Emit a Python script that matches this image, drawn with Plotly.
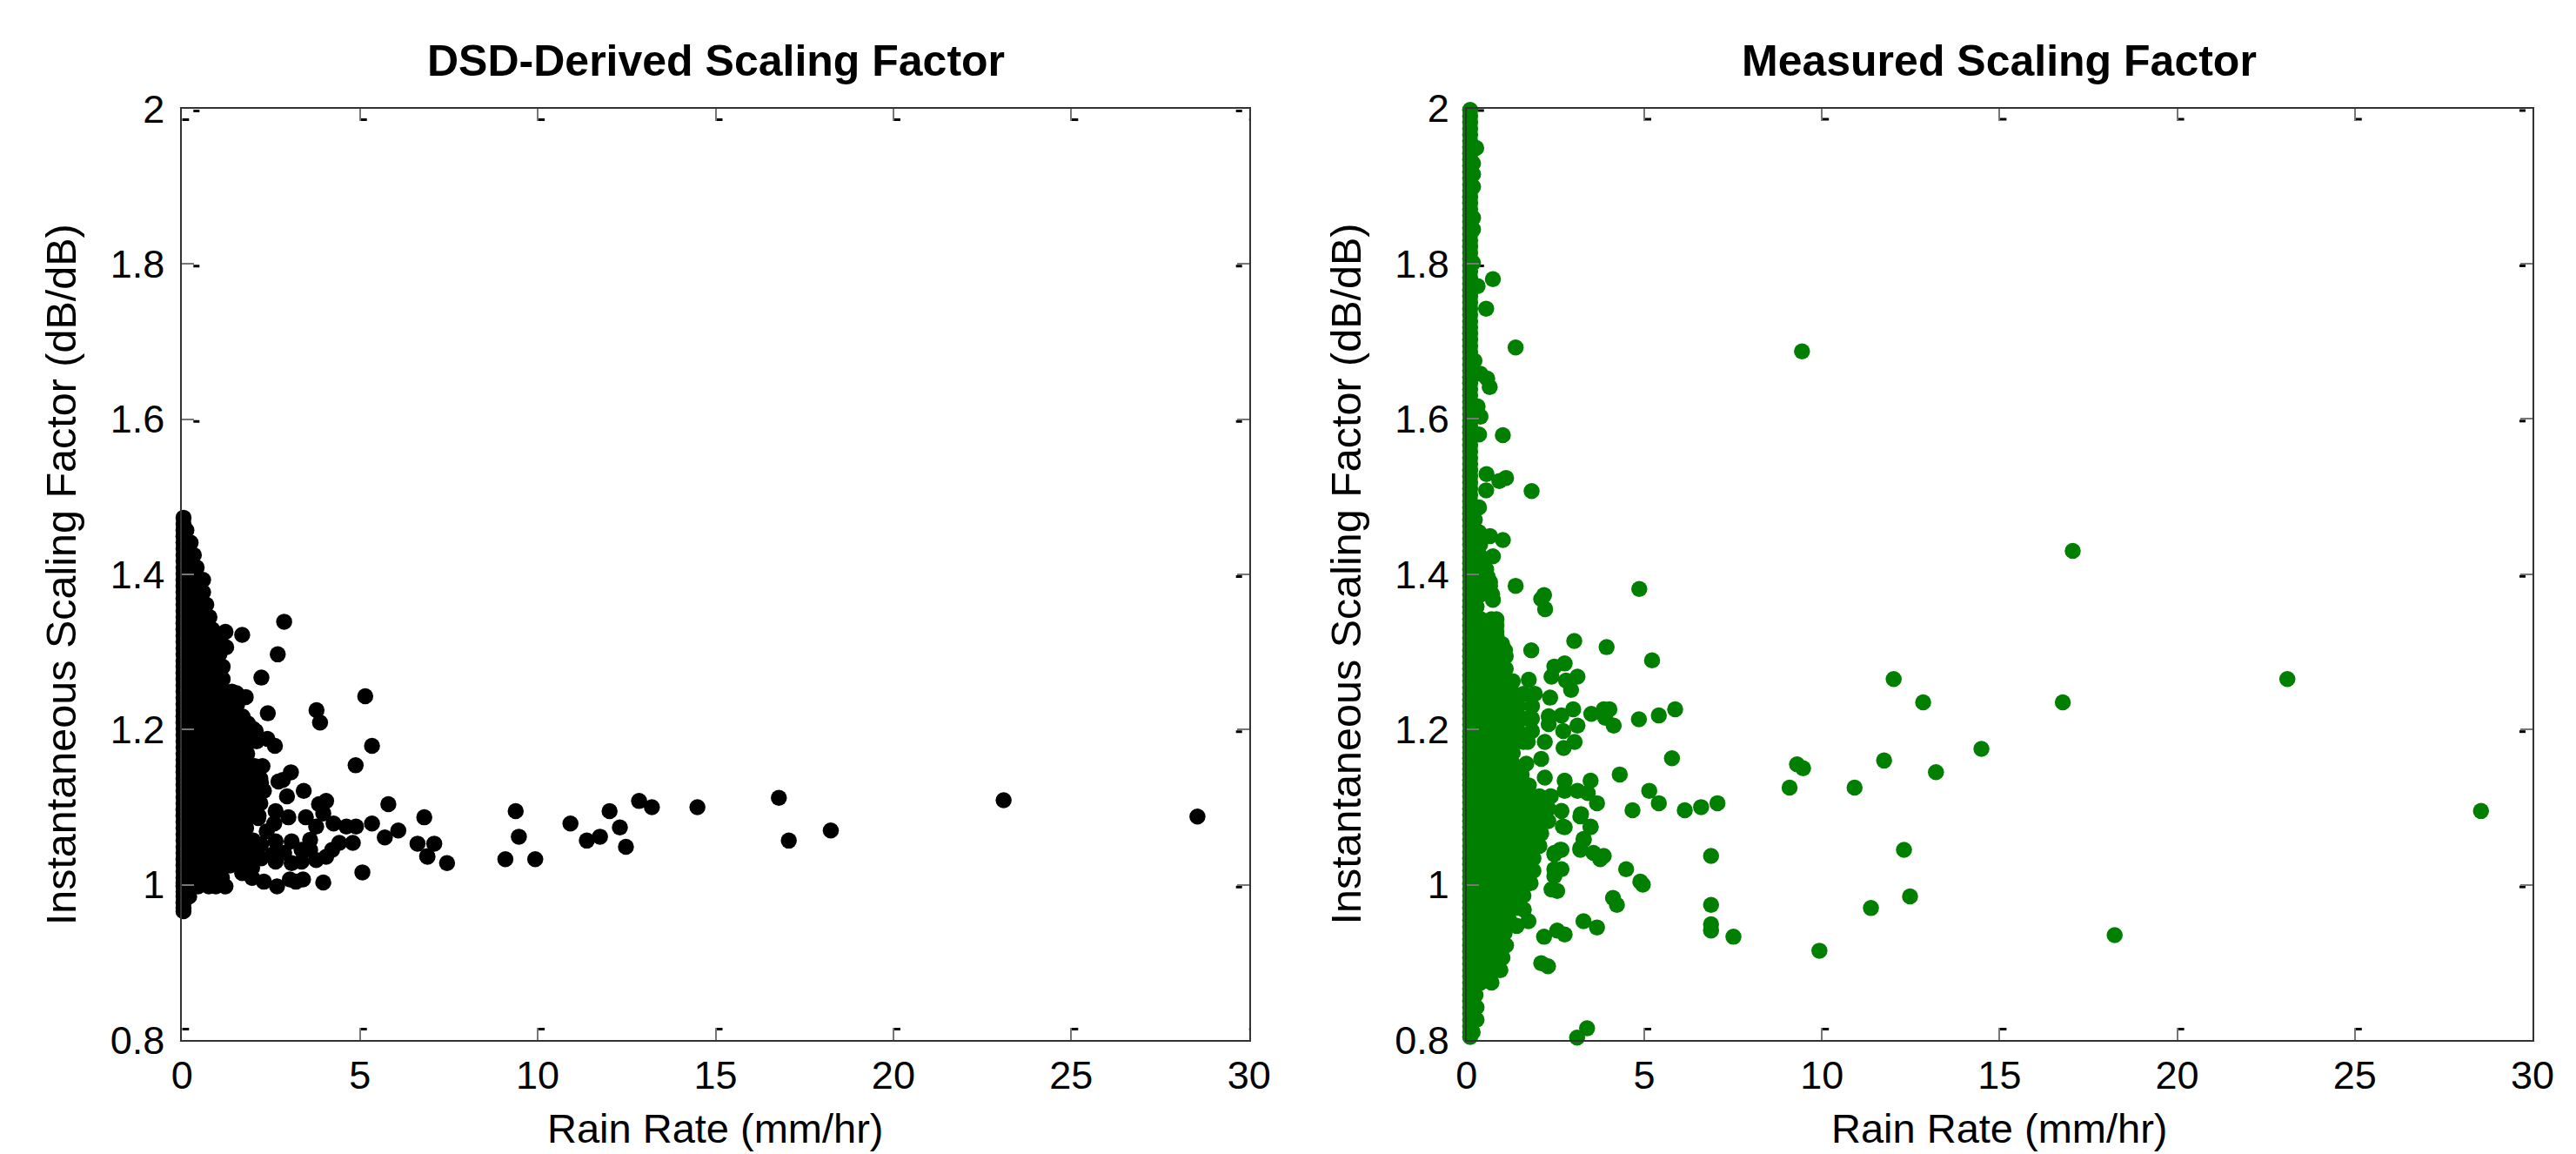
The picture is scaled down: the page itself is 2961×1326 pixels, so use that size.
import plotly.graph_objects as go

# ---------- DATA ----------
x_ticks = [0, 5, 10, 15, 20, 25, 30]
y_ticks = [0.8, 1.0, 1.2, 1.4, 1.6, 1.8, 2.0]
y_tick_labels = ["0.8", "1", "1.2", "1.4", "1.6", "1.8", "2"]
titles = ["DSD-Derived Scaling Factor", "Measured Scaling Factor"]
x_label = "Rain Rate (mm/hr)"
y_label = "Instantaneous Scaling Factor (dB/dB)"

# DSD-derived panel: individually readable points
dsd_rain = [2.87,1.69,2.69,2.23,5.15,2.41,3.78,3.88,5.34,1.22,1.24,1.79,1.53,2.61,2.40,1.85,2.07,
            4.88,3.06,2.83,3.42,5.80,6.81,5.34,6.08,5.70,6.62,6.90,5.07,3.97,3.40,3.20,3.03,2.67,2.30,1.97,1.69,1.22,
            4.05,3.85,3.97,3.48,3.77,4.26,4.62,4.89,4.80,4.42,4.22,4.05,3.77,3.36,3.08,3.60,3.08,2.63,2.38,2.59,2.63,
            2.99,2.95,2.71,2.26,2.22,2.54,2.22,1.97,3.36,3.60,2.14,2.63,2.87,2.22,
            7.09,6.89,7.45,9.38,9.47,9.09,9.93,10.92,11.38,11.75,12.02,12.31,12.48,12.85,13.21,14.49,16.78,17.06,18.24,23.1,28.55]
dsd_scale = [1.339,1.322,1.297,1.267,1.243,1.221,1.225,1.209,1.179,1.326,1.306,1.242,1.247,1.179,1.188,1.208,1.198,
             1.154,1.145,1.135,1.121,1.104,1.087,1.079,1.070,1.061,1.053,1.036,1.016,1.003,1.007,1.004,1.007,0.998,1.004,1.009,1.015,0.998,
             1.108,1.104,1.092,1.087,1.075,1.079,1.075,1.075,1.054,1.054,1.045,1.036,1.032,1.030,1.028,1.058,1.056,1.056,1.069,1.079,1.095,
             1.087,1.114,1.133,1.153,1.131,1.039,1.034,1.022,1.045,1.045,1.086,1.030,1.041,1.052,
             1.053,1.037,1.028,1.095,1.062,1.033,1.033,1.079,1.057,1.062,1.095,1.074,1.049,1.108,1.100,1.100,1.112,1.057,1.070,1.109,1.088]

# DSD-derived panel: dense cloud near zero rain, one rain list per scaling-factor level
dsd_core_scale = [1.473,1.457,1.441,1.425,1.409,1.393,1.377,1.361,1.345,1.329,1.313,1.297,1.281,1.265,1.249,1.233,1.217,
                  1.201,1.185,1.169,1.153,1.137,1.121,1.105,1.089,1.073,1.057,1.041,1.025,1.009,0.998,0.985,0.970]
dsd_core_rain = [
    [.04],[.04,.12],[.04,.24],[.04,.33],[.04,.22,.41],[.04,.30,.59],[.04,.15,.45,.59],[.04,.30,.60,.68],
    [.04,.15,.45,.77],[.04,.30,.60,.85],[.04,.15,.45,.75,.95],[.04,.30,.60,.90,1.05],[.04,.15,.45,.75,1.05,1.14],[.04,.30,.60,.90,1.14],
    [.04,.15,.45,.75,1.05,1.40],[.04,.30,.60,.90,1.20,1.50,1.55],[.04,.15,.45,.75,1.05,1.35,1.70],
    [.04,.30,.60,.90,1.20,1.50,1.80,2.0],[.04,.15,.45,.75,1.05,1.35,1.65,1.95,2.10],[.04,.30,.60,.90,1.20,1.50,1.83],
    [.04,.15,.45,.75,1.05,1.35,1.65,1.95,2.04],[.04,.30,.60,.90,1.20,1.50,1.80,2.10,2.20],[.04,.15,.45,.75,1.05,1.35,1.65,1.95,2.25,2.30],
    [.04,.30,.60,.90,1.20,1.50,1.80,2.10,2.20],[.04,.15,.45,.75,1.05,1.35,1.65,1.95,2.15],[.04,.30,.60,.90,1.20,1.50,1.80],
    [.04,.15,.45,.75,1.05,1.35,1.65,1.95,2.00],[.04,.30,.60,.90,1.20,1.50,1.80,2.00],[.04,.15,.45,.75,1.05,1.35,1.65,1.90],
    [.04,.30,.60,.90,1.12],[.04,.15,.45,.75,.95],[.04,.20],[.04]]
# DSD-derived panel: points hugging the zero-rain edge
dsd_edge_scale = [1.465,1.449,1.433,1.417,1.401,1.385,1.369,1.353,1.337,1.321,1.305,1.289,1.273,1.257,1.241,1.225,1.209,
                  1.193,1.177,1.161,1.145,1.129,1.113,1.097,1.081,1.065,1.049,1.033,1.017,1.003,0.991,0.977,0.966]
dsd_edge_rain = [.04] * 33

# Measured panel: individually readable points
meas_rain = [.74,.55,1.38,9.44,.65,1.02,.56,1.11,.92,1.83,.55,.35,.35,.39,.31,.58,.39,.22,.31,.27,.18,.18,.18,.18,.18,.18,
             .66,1.02,.74,.59,.66,.74,1.38,2.18,2.10,2.21,4.86,.84,.84,1.08,
             3.03,3.94,5.22,1.82,2.76,2.47,3.12,2.39,2.80,2.94,1.75,2.35,5.87,5.41,4.85,3.00,2.31,2.67,
             3.51,3.86,4.02,3.90,4.14,3.12,2.31,2.72,3.04,2.73,2.20,2.10,5.78,4.31,2.20,2.76,3.49,2.76,3.12,3.41,5.14,
             3.67,5.41,4.67,6.14,6.60,7.06,2.67,3.22,3.49,2.76,3.30,3.20,2.67,2.47,3.57,3.86,3.76,6.88,4.49,
             4.89,4.96,4.12,4.23,6.88,6.88,6.88,7.51,2.18,2.55,2.76,3.29,3.67,2.10,2.29,3.39,3.11,2.55,2.39,2.47,2.67,2.47,
             2.63,2.47,2.71,3.20,3.49,3.29,3.20,1.74,1.61,1.41,
             9.09,9.30,9.47,9.93,10.92,11.38,11.75,12.02,12.31,12.48,12.85,13.21,14.49,16.78,17.06,18.24,23.1,28.55]
meas_scale = [1.780,1.742,1.692,1.687,1.641,1.579,1.529,1.524,1.520,1.507,1.508,1.486,1.580,1.603,1.616,1.652,1.658,1.675,1.771,1.949,1.929,1.915,1.899,1.859,1.844,1.801,
              1.449,1.444,1.423,1.397,1.385,1.367,1.385,1.373,1.368,1.355,1.381,1.334,1.321,1.302,
              1.314,1.306,1.289,1.302,1.285,1.281,1.268,1.268,1.263,1.251,1.264,1.241,1.226,1.218,1.213,1.226,1.217,1.218,
              1.220,1.226,1.226,1.215,1.205,1.205,1.207,1.198,1.184,1.176,1.184,1.162,1.163,1.142,1.138,1.134,1.134,1.121,1.121,1.118,1.121,
              1.105,1.105,1.096,1.096,1.100,1.105,1.095,1.091,1.074,1.074,1.058,1.045,1.045,1.039,1.041,1.037,1.033,1.037,1.020,
              1.004,1.000,0.983,0.974,0.974,0.949,0.941,0.933,0.933,0.941,0.936,0.953,0.945,0.899,0.895,0.815,0.803,0.992,0.994,1.020,1.020,1.011,
              1.045,1.041,1.075,1.088,1.075,1.059,1.047,0.953,0.968,0.947,
              1.125,1.155,1.150,0.915,1.125,0.970,1.160,1.265,1.045,0.985,1.235,1.145,1.175,1.235,1.430,0.935,1.265,1.095]

# Measured panel: dense cloud near zero rain, one rain list per scaling-factor level
meas_core_scale = [1.998,1.982,1.966,1.950,1.934,1.918,1.902,1.886,1.870,1.854,1.838,1.822,1.806,1.790,1.774,1.758,1.742,1.726,
                   1.710,1.694,1.678,1.662,1.646,1.630,1.614,1.598,1.582,1.566,1.550,1.534,1.518,1.502,1.486,
                   1.470,1.454,1.438,1.422,1.406,1.390,1.374,1.358,1.342,1.326,1.310,1.294,1.278,1.262,1.246,1.230,1.214,1.198,
                   1.184,1.170,1.156,1.142,1.128,1.114,1.098,1.082,1.066,1.050,1.034,1.018,1.002,0.986,0.970,0.954,0.938,0.922,
                   0.906,0.890,0.874,0.858,0.842,0.826,0.810,0.798]
meas_core_rain = [
    [.10],[.10],[.10],[.10],[.10],[.10],[.10],[.10],[.10],[.10],[.10],[.10],[.10],[.10],[.10],[.10],[.10],[.10],
    [.10],[.10],[.10],[.10],[.10],[.10],[.10],[.10],[.10],[.10],[.10],[.10],[.10],[.10],[.10],
    [.10,.23],[.10,.35],[.10,.38],[.10,.40],[.10,.40,.55],[.10,.40,.66],[.10,.40,.72],[.10,.28],
    [.10,.40,.70,.84],[.10,.25,.55,.84],[.10,.40,.70,1.0],[.10,.25,.55,.85,1.1],[.10,.40,.70,1.0,1.1],[.10,.25,.55,.85,1.15,1.3],
    [.10,.40,.70,1.0,1.3,1.6,1.92],[.10,.25,.55,.85,1.15,1.45,1.84],[.10,.40,.70,1.0,1.3,1.6,1.84],[.10,.25,.55,.85,1.15,1.45,1.84],
    [.10,.40,.70,1.0,1.3,1.6,1.72],[.10,.25,.55,.85,1.15,1.30],[.10,.40,.70,1.0,1.3,1.68],[.10,.25,.55,.85,1.15,1.55],
    [.10,.40,.70,1.0,1.3,1.6,1.75],[.10,.25,.55,.85,1.15,1.45,1.75,2.05,2.37],[.10,.40,.70,1.0,1.3,1.6,1.9,2.2,2.3],
    [.10,.25,.55,.85,1.15,1.45,1.75,2.05,2.3],[.10,.40,.70,1.0,1.3,1.6,1.9,2.1],[.10,.25,.55,.85,1.15,1.45,1.75,2.05],
    [.10,.40,.70,1.0,1.3,1.6,1.88],[.10,.25,.55,.85,1.15,1.45,1.75,1.88],[.10,.40,.70,1.0,1.3,1.6,1.80],
    [.10,.25,.55,.85,1.15,1.45,1.6],[.10,.40,.70,1.0,1.3,1.4],[.10,.25,.55,.85,1.15,1.2],[.10,.40,.70,1.0,1.07],[.10,.25,.55,.85,1.11],
    [.10,.40,.70,1.01],[.10,.25,.55,.85,.95],[.10,.40,.70],[.10,.25],[.10,.28],[.10,.28],[.10,.17],[.10]]
# Measured panel: points hugging the zero-rain edge
meas_edge_scale = [1.990,1.974,1.958,1.942,1.926,1.910,1.894,1.878,1.862,1.846,1.830,1.814,1.798,1.782,1.766,1.750,1.734,1.718,
                   1.702,1.686,1.670,1.654,1.638,1.622,1.606,1.590,1.574,1.558,1.542,1.526,1.510,1.494,1.478,
                   1.462,1.446,1.430,1.414,1.398,1.382,1.366,1.350,1.334,1.318,1.302,1.286,1.270,1.254,1.238,1.222,1.206,1.191,
                   1.177,1.163,1.149,1.135,1.121,1.106,1.090,1.074,1.058,1.042,1.026,1.010,0.994,0.978,0.962,0.946,0.930,0.914,
                   0.898,0.882,0.866,0.850,0.834,0.818,0.804]
meas_edge_rain = [.10] * 76

# ---------- STYLE / LAYOUT ----------
W, H = 2961, 1326
BLACK, GREEN = "#000000", "#007f00"
FONT = "Liberation Sans"
AXIS = "#333333"
TICK = "#777777"
L_BOX = (209.3, 1435.7, 125, 1195)
R_BOX = (1685.8, 2911, 124.5, 1195)


def flatten(rows, levels):
    xs, ys = [], []
    for row, lev in zip(rows, levels):
        for v in row:
            xs.append(v)
            ys.append(lev)
    return xs, ys


fig = go.Figure()
for i, (rx, ry, crx, cry, ex, ey, col) in enumerate([
    (dsd_rain, dsd_scale, dsd_core_rain, dsd_core_scale, dsd_edge_rain, dsd_edge_scale, BLACK),
    (meas_rain, meas_scale, meas_core_rain, meas_core_scale, meas_edge_rain, meas_edge_scale, GREEN),
]):
    cx, cy = flatten(crx, cry)
    suffix = "" if i == 0 else "2"
    fig.add_trace(go.Scatter(
        x=cx + ex + rx, y=cy + ey + ry, mode="markers", cliponaxis=False, showlegend=False,
        marker=dict(color=col, size=18.5, line=dict(width=0), symbol="circle"),
        xaxis="x" + suffix, yaxis="y" + suffix, name=titles[i]))


def axes_for(box, anchor):
    x0, x1, top, bot = box
    xa = dict(domain=[x0 / W, x1 / W], range=[0, 30], tickvals=x_ticks, ticktext=[str(t) for t in x_ticks],
              ticks="inside", ticklen=14, tickwidth=2, tickcolor=TICK, mirror="allticks", showline=True,
              linecolor=AXIS, linewidth=2, showgrid=False, zeroline=False, anchor=anchor[1], automargin=False,
              tickfont=dict(family=FONT, size=45, color="#000"), ticklabelstandoff=0)
    ya = dict(domain=[1 - bot / H, 1 - top / H], range=[0.8, 2.0], tickvals=y_ticks, ticktext=y_tick_labels,
              ticks="inside", ticklen=14, tickwidth=2, tickcolor=TICK, mirror="allticks", showline=True,
              linecolor=AXIS, linewidth=2, showgrid=False, zeroline=False, anchor=anchor[0], automargin=False,
              tickfont=dict(family=FONT, size=45, color="#000"), ticklabelstandoff=9)
    return xa, ya


xa1, ya1 = axes_for(L_BOX, ("x", "y"))
xa2, ya2 = axes_for(R_BOX, ("x2", "y2"))

shapes = []
DASH = dict(type="rect", fillcolor="#000", line=dict(width=0), xsizemode="pixel", ysizemode="pixel", layer="below")
for xr, yr, lo_y, hi_y in [("x", "y", 0.8, 2.0), ("x2", "y2", 0.8, 2.0)]:
    for t in x_ticks:
        shapes.append(dict(DASH, xref=xr, yref=yr, xanchor=t, yanchor=lo_y, x0=0, x1=8, y0=11, y1=14))
        shapes.append(dict(DASH, xref=xr, yref=yr, xanchor=t, yanchor=hi_y, x0=0, x1=8, y0=-14, y1=-11))
    for t in y_ticks:
        shapes.append(dict(DASH, xref=xr, yref=yr, xanchor=0, yanchor=t, x0=13, x1=20, y0=-4, y1=-1))
        shapes.append(dict(DASH, xref=xr, yref=yr, xanchor=30, yanchor=t, x0=-15, x1=-8, y0=-4, y1=-1))

annotations = []
for box, text in zip((L_BOX, R_BOX), titles):
    cx = (box[0] + box[1]) / 2
    annotations.append(dict(text="<b>%s</b>" % text, xref="paper", yref="paper", x=cx / W, y=1 - 70 / H,
                            xanchor="center", yanchor="middle", showarrow=False,
                            font=dict(family=FONT, size=50, color="#000")))
    annotations.append(dict(text=x_label, xref="paper", yref="paper", x=cx / W, y=1 - 1296 / H,
                            xanchor="center", yanchor="middle", showarrow=False,
                            font=dict(family=FONT, size=47, color="#000")))
    annotations.append(dict(text=y_label, xref="paper", yref="paper", x=(box[0] - 139) / W,
                            y=1 - (box[2] + box[3]) / 2 / H, xanchor="center", yanchor="middle", showarrow=False,
                            textangle=-90, font=dict(family=FONT, size=48.5, color="#000")))

fig.update_layout(width=W, height=H, autosize=False, margin=dict(l=0, r=0, t=0, b=0, pad=0),
                  paper_bgcolor="#fff", plot_bgcolor="#fff", showlegend=False,
                  xaxis=xa1, yaxis=ya1, xaxis2=xa2, yaxis2=ya2, shapes=shapes, annotations=annotations)

fig.write_html("out.html", config={"displayModeBar": False}, post_script="document.body.style.margin='0';")
